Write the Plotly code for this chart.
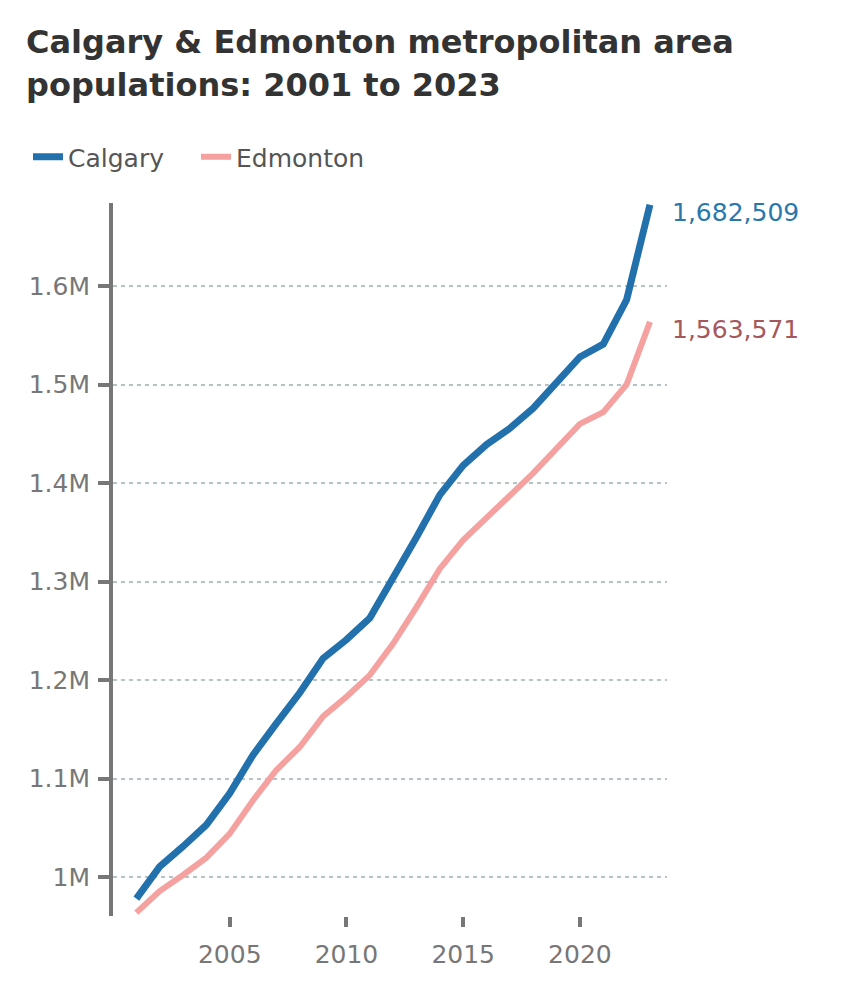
import plotly.graph_objects as go

years = list(range(2001, 2024))
calgary = [978000, 1010500, 1031000, 1053000, 1085000, 1124000, 1156000, 1187000, 1222000,
           1241000, 1263000, 1303000, 1345000, 1388000, 1418000, 1439000, 1455500, 1476000,
           1503000, 1528000, 1541000, 1586000, 1682509]
edmonton = [963800, 985800, 1002000, 1019600, 1044000, 1078000, 1108600, 1132000, 1163000,
            1183000, 1205000, 1237000, 1274000, 1313000, 1342000, 1364000, 1386000, 1410000,
            1435000, 1460000, 1472000, 1500000, 1563571]
series_names = ["Calgary", "Edmonton"]
line_colors = ["#2270ac", "#f5a1a0"]
label_colors = ["#2a78ab", "#a5575c"]
y_tickvals = [1000000, 1100000, 1200000, 1300000, 1400000, 1500000, 1600000]
y_ticktext = ["1M", "1.1M", "1.2M", "1.3M", "1.4M", "1.5M", "1.6M"]
x_tickvals = [2005, 2010, 2015, 2020]
title_lines = ["Calgary &amp; Edmonton metropolitan area", "populations: 2001 to 2023"]

FONT = "DejaVu Sans"
GRAY = "#777777"
W, H = 850, 987
OFF = 8  # page body margin compensation

fig = go.Figure()
for name, vals, col, w in zip(series_names, [calgary, edmonton], line_colors, [7, 6]):
    fig.add_trace(go.Scatter(x=years, y=vals, mode="lines", name=name,
                             line=dict(color=col, width=w), hoverinfo="skip"))

for vals, col in zip([calgary, edmonton], label_colors):
    fig.add_annotation(x=years[-1], y=vals[-1], text=f"{vals[-1]:,}", showarrow=False,
                       xanchor="left", yanchor="middle", xshift=20, yshift=-8,
                       font=dict(family=FONT, size=25, color=col))

# title lines placed individually (centers at ~42px and ~85px on the page)
for line, cy in zip(title_lines, [42, 85]):
    fig.add_annotation(text=line, xref="paper", yref="paper",
                       x=(24 - 113) / 554, y=1, showarrow=False,
                       xanchor="left", yanchor="middle", align="left",
                       yshift=203 - cy,
                       font=dict(family=FONT, size=32, color="#333333", weight="bold"))

fig.update_layout(
    width=W, height=H,
    margin=dict(l=113 - OFF, r=W - (113 - OFF) - 554, t=203 - OFF, b=H - (203 - OFF) - 713),
    plot_bgcolor="white", paper_bgcolor="white",
    font=dict(family=FONT, color=GRAY),
    legend=dict(orientation="h", x=(28 - OFF) / W, xref="container", xanchor="left",
                y=1 - (157 - OFF) / H, yref="container", yanchor="middle",
                entrywidth=123, entrywidthmode="pixels",
                font=dict(family=FONT, size=25, color="#555555"),
                bgcolor="rgba(0,0,0,0)"),
    showlegend=True,
)

fig.update_xaxes(range=[2000, 2023.73], tickvals=x_tickvals, showgrid=False, zeroline=False,
                 showline=False, ticks="outside", ticklen=10, tickwidth=4, tickcolor=GRAY,
                 ticklabelstandoff=6,
                 tickfont=dict(family=FONT, size=25, color=GRAY))
fig.update_yaxes(range=[960400, 1684300], tickvals=y_tickvals, ticktext=y_ticktext,
                 showgrid=True, gridcolor="#b5c2c8", gridwidth=1.5, griddash="4px,4px",
                 zeroline=False, showline=True, linecolor=GRAY, linewidth=4,
                 ticks="outside", ticklen=11, tickwidth=4, tickcolor=GRAY,
                 ticklabelstandoff=3,
                 tickfont=dict(family=FONT, size=25, color=GRAY))

fig.write_html("out.html")
